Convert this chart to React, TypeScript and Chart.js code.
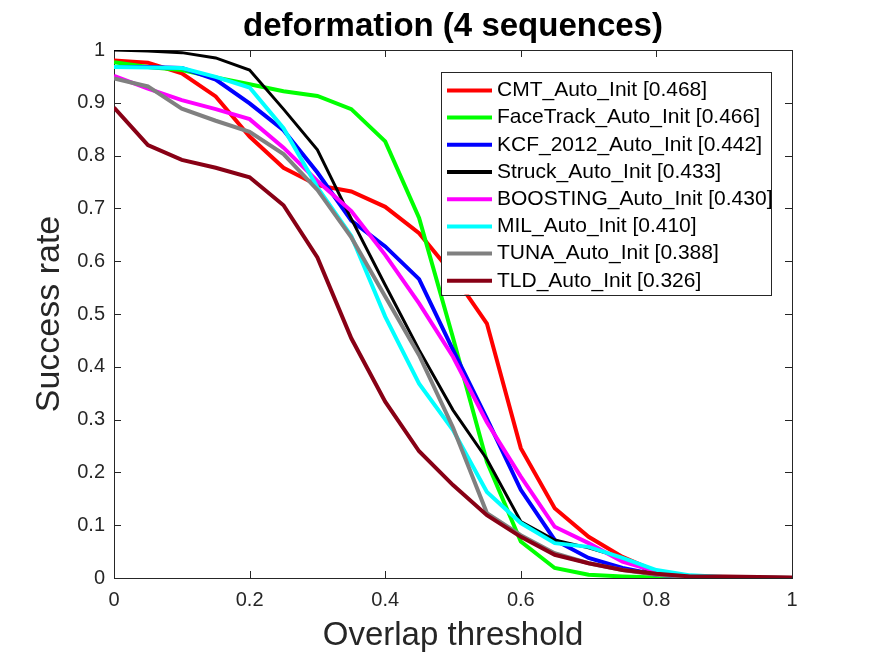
import React, { useEffect, useRef } from "react";
import { Chart, registerables } from "chart.js";

Chart.register(...registerables);

const thresholds = [0, 0.05, 0.1, 0.15, 0.2, 0.25, 0.3, 0.35, 0.4, 0.45, 0.5, 0.55, 0.6, 0.65, 0.7, 0.75, 0.8, 0.85, 0.9, 0.95, 1];

const trackerNames = [
  "CMT_Auto_Init [0.468]",
  "FaceTrack_Auto_Init [0.466]",
  "KCF_2012_Auto_Init [0.442]",
  "Struck_Auto_Init [0.433]",
  "BOOSTING_Auto_Init [0.430]",
  "MIL_Auto_Init [0.410]",
  "TUNA_Auto_Init [0.388]",
  "TLD_Auto_Init [0.326]",
];

const trackerColors = ["#ff0000", "#00ff00", "#0000ff", "#000000", "#ff00ff", "#00ffff", "#808080", "#880015"];
const trackerWidths = [4, 4, 4, 3, 4, 4, 4, 4];

const cmt = [0.98, 0.976, 0.956, 0.912, 0.836, 0.777, 0.744, 0.732, 0.703, 0.653, 0.575, 0.482, 0.246, 0.132, 0.078, 0.04, 0.012, 0.003, 0.002, 0.001, 0];
const faceTrack = [0.977, 0.968, 0.962, 0.948, 0.935, 0.922, 0.913, 0.888, 0.827, 0.682, 0.455, 0.22, 0.069, 0.019, 0.006, 0.003, 0.001, 0, 0, 0, 0];
const kcf = [0.968, 0.968, 0.966, 0.944, 0.899, 0.848, 0.768, 0.677, 0.628, 0.566, 0.432, 0.302, 0.167, 0.072, 0.038, 0.019, 0.006, 0.002, 0.001, 0, 0];
const struck = [1.0, 0.998, 0.995, 0.985, 0.962, 0.888, 0.811, 0.68, 0.555, 0.432, 0.318, 0.225, 0.107, 0.072, 0.057, 0.038, 0.006, 0.002, 0.001, 0, 0];
const boosting = [0.951, 0.927, 0.905, 0.888, 0.869, 0.815, 0.752, 0.695, 0.612, 0.52, 0.419, 0.295, 0.192, 0.097, 0.066, 0.031, 0.012, 0.003, 0.001, 0, 0];
const mil = [0.968, 0.967, 0.966, 0.949, 0.929, 0.852, 0.74, 0.648, 0.495, 0.368, 0.28, 0.163, 0.104, 0.066, 0.059, 0.038, 0.015, 0.005, 0.002, 0.001, 0];
const tuna = [0.946, 0.931, 0.889, 0.866, 0.845, 0.803, 0.735, 0.645, 0.533, 0.422, 0.285, 0.123, 0.081, 0.047, 0.028, 0.015, 0.006, 0.002, 0.001, 0, 0];
const tld = [0.891, 0.82, 0.792, 0.777, 0.759, 0.706, 0.607, 0.454, 0.334, 0.24, 0.176, 0.119, 0.078, 0.044, 0.028, 0.015, 0.008, 0.003, 0.003, 0.002, 0.001];

const seriesValues = [cmt, faceTrack, kcf, struck, boosting, mil, tuna, tld];

const xTicks = [0, 0.2, 0.4, 0.6, 0.8, 1];
const yTicks = [0, 0.1, 0.2, 0.3, 0.4, 0.5, 0.6, 0.7, 0.8, 0.9, 1];

const chartTitle = "deformation (4 sequences)";
const xLabel = "Overlap threshold";
const yLabel = "Success rate";

const FONT = "'Liberation Sans', Arial, Helvetica, sans-serif";
const AXIS_COLOR = "#262626";

const matlabAxesPlugin = {
  id: "matlabAxes",
  beforeDatasetsDraw(chart: any) {
    const { ctx, chartArea, scales } = chart;
    const { left, right, top, bottom } = chartArea;
    ctx.save();
    ctx.strokeStyle = AXIS_COLOR;
    ctx.lineWidth = 1;
    const tl = 7;
    ctx.beginPath();
    for (const v of xTicks) {
      const px = Math.round(scales.x.getPixelForValue(v)) + 0.5;
      ctx.moveTo(px, bottom);
      ctx.lineTo(px, bottom - tl);
      ctx.moveTo(px, top);
      ctx.lineTo(px, top + tl);
    }
    for (const v of yTicks) {
      const py = Math.round(scales.y.getPixelForValue(v)) + 0.5;
      ctx.moveTo(left, py);
      ctx.lineTo(left + tl, py);
      ctx.moveTo(right, py);
      ctx.lineTo(right - tl, py);
    }
    ctx.stroke();
    ctx.strokeRect(Math.round(left) + 0.5, Math.round(top) + 0.5, Math.round(right - left), Math.round(bottom - top));
    ctx.restore();
  },
  afterDraw(chart: any) {
    const { ctx, chartArea } = chart;
    ctx.save();
    ctx.fillStyle = "#000000";
    ctx.font = `bold 33px ${FONT}`;
    ctx.textAlign = "center";
    ctx.textBaseline = "alphabetic";
    ctx.fillText(chartTitle, (chartArea.left + chartArea.right) / 2, chartArea.top - 14);
    ctx.restore();
  },
};

const boxLegendPlugin = {
  id: "boxLegend",
  afterDatasetsDraw(chart: any) {
    const { ctx, chartArea } = chart;
    const datasets = chart.data.datasets;
    const boxRight = chartArea.right - 21;
    const boxLeft = chartArea.left + 327;
    const boxTop = chartArea.top + 22;
    const rowH = 27.2;
    const boxBottom = boxTop + rowH * datasets.length + 5;
    ctx.save();
    ctx.fillStyle = "#ffffff";
    ctx.fillRect(boxLeft, boxTop, boxRight - boxLeft, boxBottom - boxTop);
    ctx.strokeStyle = AXIS_COLOR;
    ctx.lineWidth = 1;
    ctx.strokeRect(Math.round(boxLeft) + 0.5, Math.round(boxTop) + 0.5, Math.round(boxRight - boxLeft), Math.round(boxBottom - boxTop));
    ctx.font = `21px ${FONT}`;
    ctx.textBaseline = "middle";
    ctx.textAlign = "left";
    datasets.forEach((ds: any, i: number) => {
      const cy = boxTop + 18.4 + i * rowH;
      ctx.strokeStyle = ds.borderColor;
      ctx.lineWidth = 4;
      ctx.beginPath();
      ctx.moveTo(boxLeft + 6, cy);
      ctx.lineTo(boxLeft + 51, cy);
      ctx.stroke();
      ctx.fillStyle = "#000000";
      ctx.fillText(ds.label, boxLeft + 56, cy);
    });
    ctx.restore();
  },
};

export default function App() {
  const canvasRef = useRef<HTMLCanvasElement | null>(null);

  useEffect(() => {
    if (!canvasRef.current) return;
    const datasets = trackerNames.map((name, i) => ({
      label: name,
      data: thresholds.map((t, k) => ({ x: t, y: seriesValues[i][k] })),
      borderColor: trackerColors[i],
      backgroundColor: trackerColors[i],
      borderWidth: trackerWidths[i],
      pointRadius: 0,
      pointHoverRadius: 0,
      tension: 0,
      fill: false,
      order: trackerNames.length - i,
    }));

    const chart = new Chart(canvasRef.current, {
      type: "line",
      data: { datasets },
      plugins: [matlabAxesPlugin, boxLegendPlugin],
      options: {
        animation: false,
        responsive: false,
        maintainAspectRatio: false,
        devicePixelRatio: 1,
        layout: { padding: { left: 0, top: 50, right: 83, bottom: 0 } },
        plugins: {
          legend: { display: false },
          tooltip: { enabled: false },
          title: { display: false },
        },
        scales: {
          x: {
            type: "linear",
            min: 0,
            max: 1,
            afterBuildTicks: (scale: any) => {
              scale.ticks = xTicks.map((v) => ({ value: v }));
            },
            afterFit: (scale: any) => {
              scale.height = 78;
            },
            ticks: {
              color: AXIS_COLOR,
              font: { family: FONT, size: 20, lineHeight: 1.2 },
              padding: 10,
              maxRotation: 0,
              autoSkip: false,
              callback: (v: any) => String(Number(v)),
            },
            grid: { display: false, drawTicks: false },
            border: { display: false },
            title: {
              display: true,
              text: xLabel,
              color: AXIS_COLOR,
              font: { family: FONT, size: 33, lineHeight: 1.2 },
              padding: { top: 0, bottom: 0.5 },
            },
          },
          y: {
            type: "linear",
            min: 0,
            max: 1,
            afterBuildTicks: (scale: any) => {
              scale.ticks = yTicks.map((v) => ({ value: v }));
            },
            afterFit: (scale: any) => {
              scale.width = 114;
            },
            ticks: {
              color: AXIS_COLOR,
              font: { family: FONT, size: 20, lineHeight: 1.2 },
              padding: 9,
              autoSkip: false,
              callback: (v: any) => String(Number(v)),
            },
            grid: { display: false, drawTicks: false },
            border: { display: false },
            title: {
              display: true,
              text: yLabel,
              color: AXIS_COLOR,
              font: { family: FONT, size: 34, lineHeight: 1.2 },
              padding: { top: 29, bottom: 0 },
            },
          },
        },
      },
    });
    return () => chart.destroy();
  }, []);

  return (
    <div style={{ position: "fixed", left: 0, top: 0, width: 875, height: 656, background: "#ffffff" }}>
      <canvas ref={canvasRef} width={875} height={656} style={{ display: "block" }} />
    </div>
  );
}
